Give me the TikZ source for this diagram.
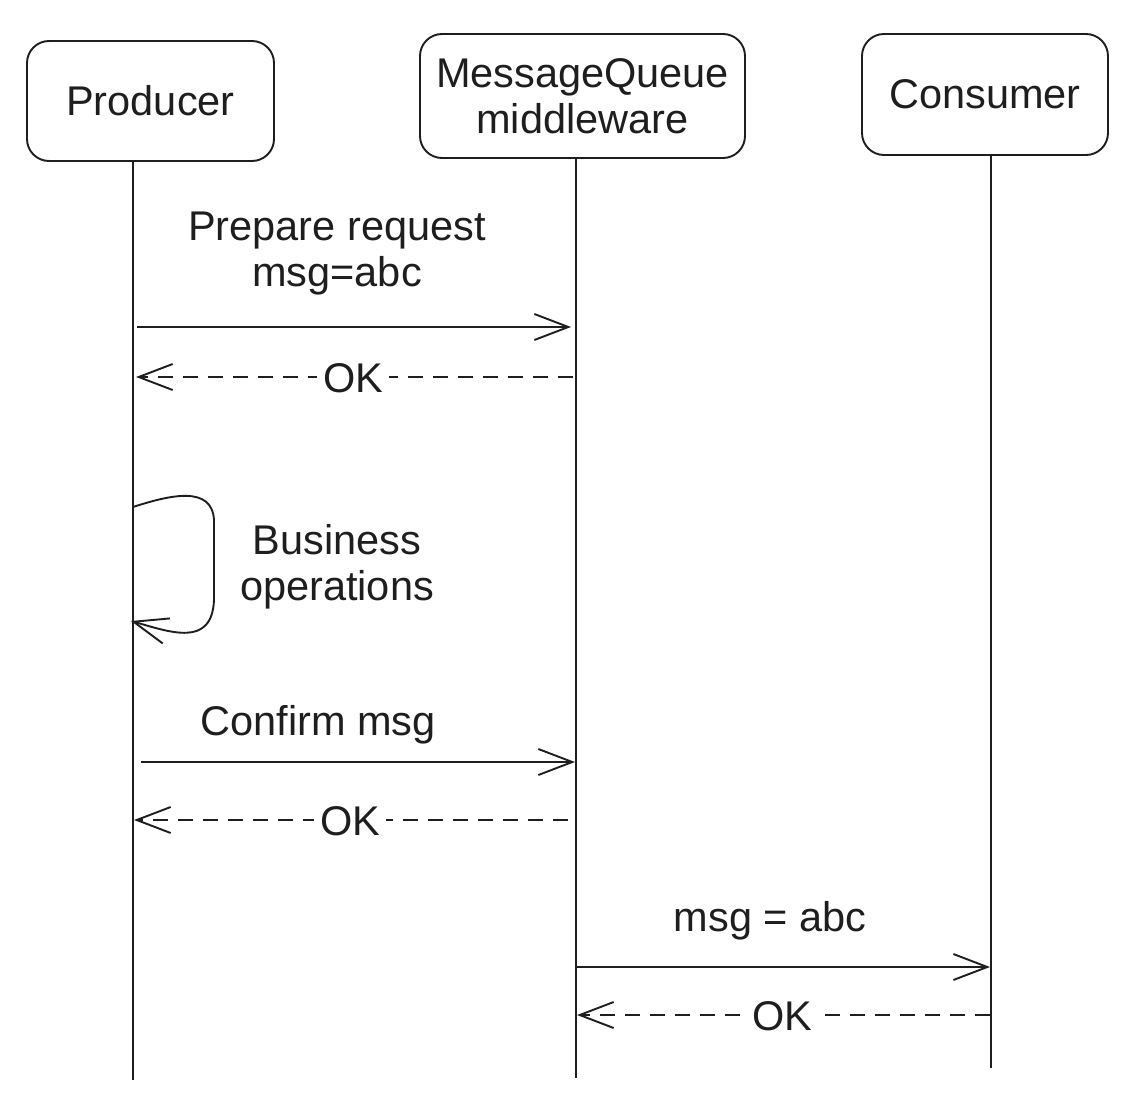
\documentclass[tikz,border=0pt]{standalone}
\usepackage{fontspec}
\setmainfont{Liberation Sans}
\usetikzlibrary{arrows.meta}
\definecolor{ink}{HTML}{1E1E1E}
\begin{document}
\begin{tikzpicture}[x=1pt,y=-1pt,
  every node/.style={font=\fontsize{41.5}{46}\selectfont,text=ink},
  actor/.style={draw=ink,line width=1.9pt,rounded corners=22pt,align=center,inner sep=0pt},
  life/.style={draw=ink,line width=1.9pt},
  msgline/.style={draw=ink,line width=1.9pt,-{Straight Barb[length=34pt,width=26pt,line width=1.9pt]}},
  retline/.style={msgline,dash pattern=on 15pt off 10pt},
  lbl/.style={align=center,inner sep=2pt},
  oklbl/.style={fill=white,inner sep=6pt}]
\useasboundingbox (0,0) rectangle (1129,1105);
% actors
\node[actor,minimum width=247pt,minimum height=120pt] (prod) at (150.5,101) {Producer};
\node[actor,minimum width=325pt,minimum height=124pt] (mq) at (582.5,96) {MessageQueue\\middleware};
\node[actor,minimum width=246pt,minimum height=121pt] (cons) at (985,94.5) {Consumer};
% lifeline ends
\coordinate (p0) at (133,160); \coordinate (p1) at (133,1080);
\coordinate (m0) at (576,157); \coordinate (m1) at (576,1078);
\coordinate (c0) at (991,154); \coordinate (c1) at (991,1068);
\draw[life] (p0) -- (p1);
\draw[life] (m0) -- (m1);
\draw[life] (c0) -- (c1);
% message 1
\coordinate (a1s) at (137,327); \coordinate (a1e) at (571,327);
\draw[msgline] (a1s) -- (a1e);
\node[lbl] (l1) at (337,254) {Prepare request\\msg=abc};
% return 1
\coordinate (r1s) at (573,377); \coordinate (r1e) at (136,377);
\draw[retline] (r1s) -- (r1e);
\node[oklbl] (ok1) at (353,378) {OK};
% self loop
\coordinate (s0) at (133,507); \coordinate (s1) at (131,621);
\draw[msgline] (s0) .. controls (170,495) and (212,485) .. (214,520)
  -- (214,600) .. controls (212,648) and (170,632) .. (s1);
\node[lbl] (l2) at (337,567) {Business\\operations};
% message 2
\coordinate (a2s) at (141,762); \coordinate (a2e) at (575,762);
\draw[msgline] (a2s) -- (a2e);
\node[lbl] (l3) at (318,725) {Confirm msg};
% return 2
\coordinate (r2s) at (568,820); \coordinate (r2e) at (134,820);
\draw[retline] (r2s) -- (r2e);
\node[oklbl] (ok2) at (350,821) {OK};
% message 3
\coordinate (a3s) at (576,967); \coordinate (a3e) at (990,967);
\draw[msgline] (a3s) -- (a3e);
\node[lbl] (l4) at (770,921) {msg = abc};
% return 3
\coordinate (r3s) at (990,1015); \coordinate (r3e) at (577,1015);
\draw[retline] (r3s) -- (r3e);
\node[oklbl,inner xsep=12pt] (ok3) at (782,1016) {OK};
\end{tikzpicture}
\end{document}
